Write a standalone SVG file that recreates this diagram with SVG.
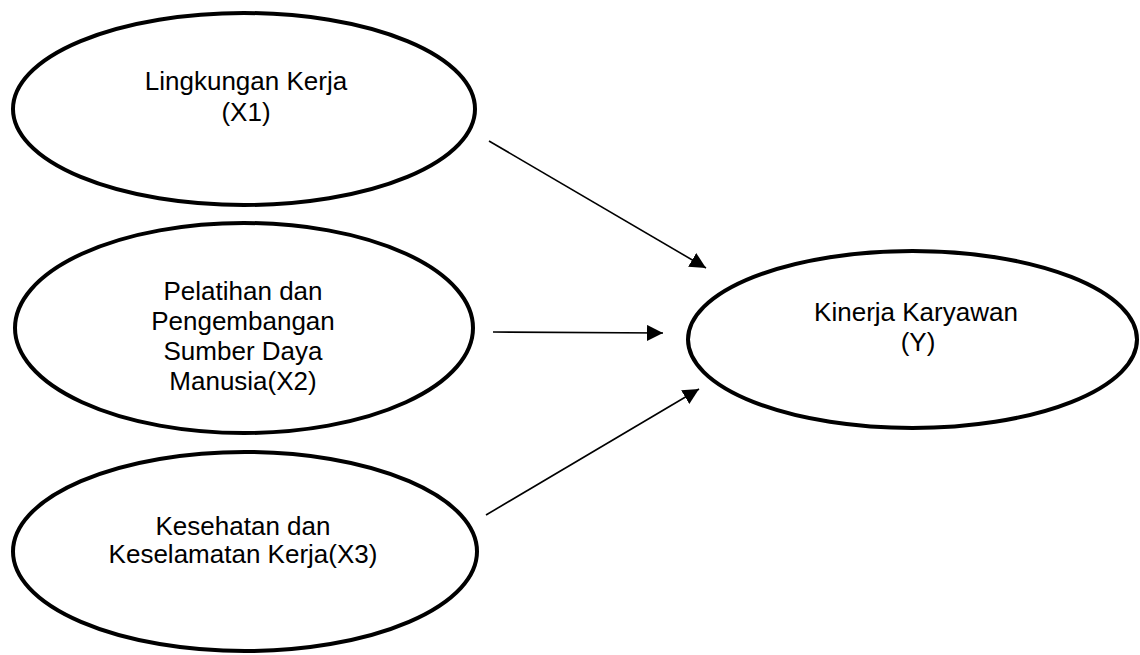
<svg xmlns="http://www.w3.org/2000/svg" width="1140" height="655" viewBox="0 0 1140 655">
<style>
.node ellipse{fill:#fff;stroke:#000;stroke-width:4}
.node text{font-family:"Liberation Sans",Arial,sans-serif;font-size:26px;fill:#000;text-anchor:middle}
.conn line{stroke:#000;stroke-width:1.6;marker-end:url(#arr)}
</style>
<defs>
<marker id="arr" viewBox="0 0 16 16" markerWidth="16" markerHeight="16" refX="16" refY="8" orient="auto" markerUnits="userSpaceOnUse">
<path d="M0,0 L16,8 L0,16 z" fill="#000"/>
</marker>
</defs>
<rect width="1140" height="655" fill="#fff"/>
<g id="x1" class="node">
<ellipse cx="244" cy="109" rx="231" ry="96"/>
<text x="246" y="90">Lingkungan Kerja</text>
<text x="246" y="121">(X1)</text>
</g>
<g id="x2" class="node">
<ellipse cx="244" cy="328" rx="229" ry="105"/>
<text x="243" y="300">Pelatihan dan</text>
<text x="243" y="330">Pengembangan</text>
<text x="243" y="360">Sumber Daya</text>
<text x="243" y="390">Manusia(X2)</text>
</g>
<g id="x3" class="node">
<ellipse cx="245" cy="551.5" rx="232" ry="99.5"/>
<text x="243" y="535">Kesehatan dan</text>
<text x="243" y="563">Keselamatan Kerja(X3)</text>
</g>
<g id="y" class="node">
<ellipse cx="912.5" cy="339.5" rx="224.5" ry="88.5"/>
<text x="916" y="321">Kinerja Karyawan</text>
<text x="918" y="351">(Y)</text>
</g>
<g id="connectors" class="conn">
<line x1="489" y1="141" x2="706" y2="268"/>
<line x1="493" y1="332" x2="663" y2="333"/>
<line x1="486" y1="515" x2="699" y2="389"/>
</g>
</svg>
